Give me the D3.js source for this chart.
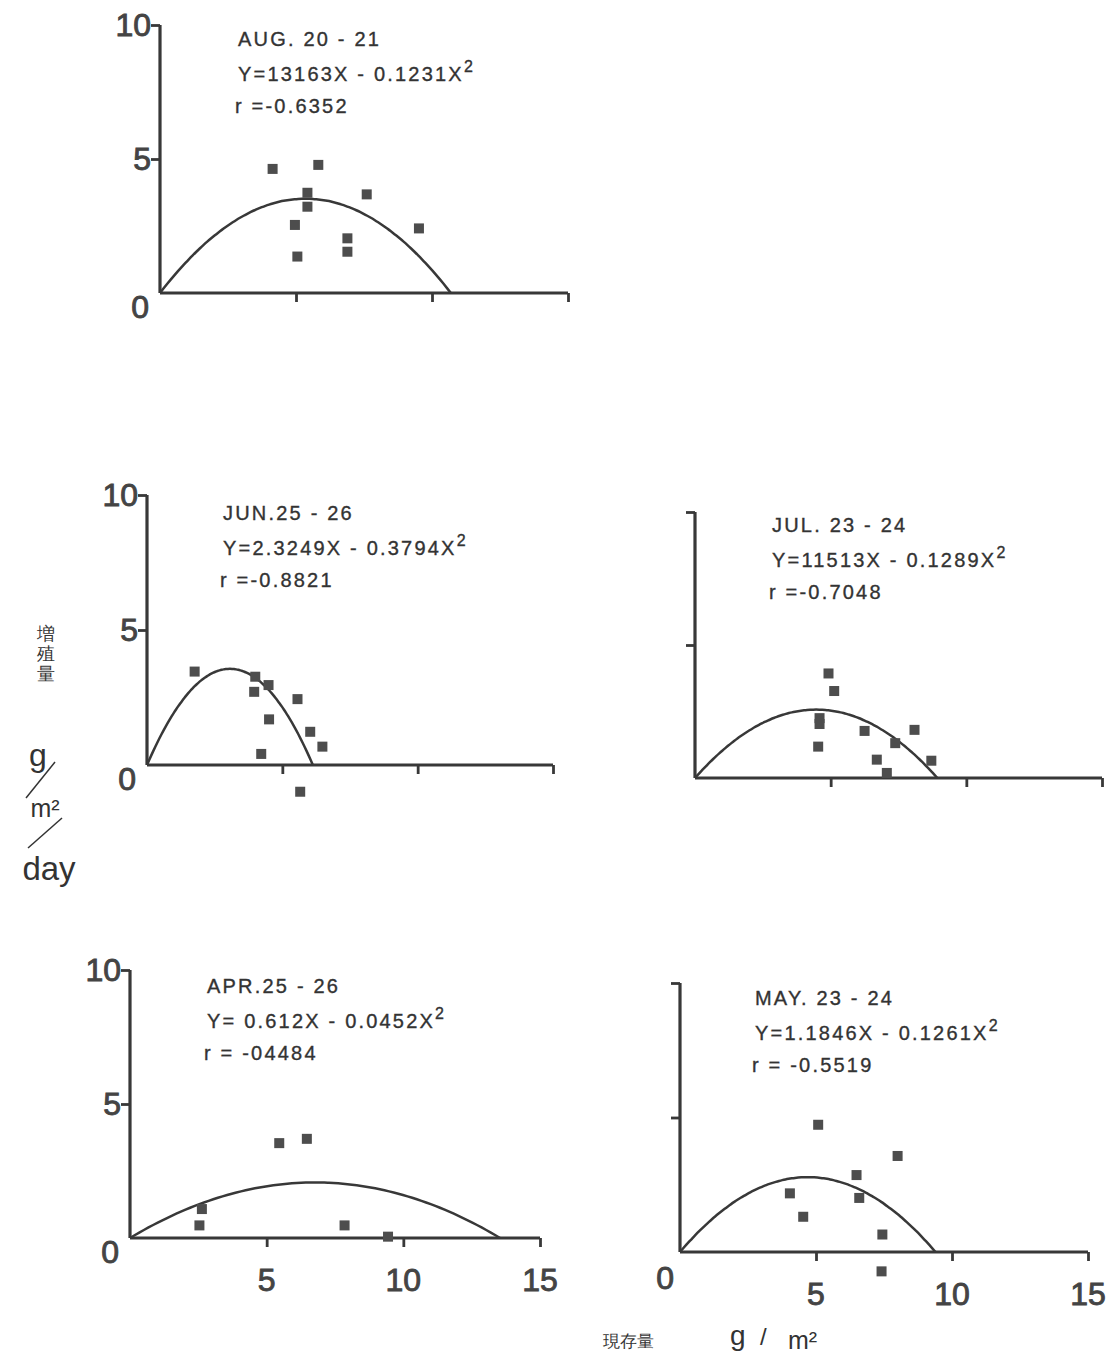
<!DOCTYPE html>
<html>
<head>
<meta charset="utf-8">
<script src="https://cdn.jsdelivr.net/npm/d3@7"></script>
<style>
  body { margin: 0; background: #fff; }
  text { font-family: "Liberation Sans", Arial, sans-serif; }
</style>
</head>
<body>
<div id="chart"></div>
<script>
/* DATA */
const panelNames = ["AUG", "JUN", "JUL", "APR", "MAY"]
const dateLabels = ["AUG. 20 - 21", "JUN.25 - 26", "JUL. 23 - 24", "APR.25 - 26", "MAY. 23 - 24"]
const eqLabels = ["Y=13163X - 0.1231X", "Y=2.3249X - 0.3794X", "Y=11513X - 0.1289X", "Y= 0.612X - 0.0452X", "Y=1.1846X - 0.1261X"]
const rLabels = ["r =-0.6352", "r =-0.8821", "r =-0.7048", "r = -04484", "r = -0.5519"]
const coefA = [1.3163, 2.3249, 1.1513, 0.612, 1.1846]
const coefB = [0.1231, 0.3794, 0.1289, 0.0452, 0.1261]

const augPoints = [[4.14, 4.63], [5.82, 4.78], [5.42, 3.74], [5.42, 3.22], [7.60, 3.68], [4.96, 2.54], [5.05, 1.36], [6.89, 2.04], [6.89, 1.54], [9.52, 2.41]]
const junPoints = [[1.76, 3.46], [4.00, 3.27], [3.96, 2.71], [4.49, 2.96], [5.56, 2.44], [4.51, 1.69], [6.03, 1.23], [6.48, 0.68], [4.22, 0.41], [5.66, -0.99]]
const julPoints = [[4.92, 3.93], [5.13, 3.27], [4.59, 2.25], [4.59, 2.03], [4.54, 1.18], [6.25, 1.77], [7.38, 1.31], [8.09, 1.81], [6.70, 0.69], [7.07, 0.19], [8.71, 0.65]]
const aprPoints = [[5.46, 3.54], [6.47, 3.70], [2.63, 1.08], [2.54, 0.47], [7.85, 0.47], [9.44, 0.05]]
const mayPoints = [[5.08, 4.73], [8.00, 3.57], [6.49, 2.86], [4.04, 2.18], [6.59, 2.01], [4.53, 1.31], [7.44, 0.65], [7.41, -0.72]]
const pointSets = [augPoints, junPoints, julPoints, aprPoints, mayPoints]

const yTicks = [5, 10]
const xTicks = [5, 10, 15]

/* LAYOUT (pixel frames for each small plot) */
const frames = [
  { x0: 160, x15: 568, y0: 293, y10: 25, yLab: true, xLab: false, textX: 238, textY: 46 },
  { x0: 147, x15: 553, y0: 765, y10: 495, yLab: true, xLab: false, textX: 223, textY: 520 },
  { x0: 695, x15: 1102, y0: 778, y10: 512, yLab: false, xLab: false, textX: 772, textY: 532 },
  { x0: 130, x15: 540, y0: 1238, y10: 970, yLab: true, xLab: true, textX: 207, textY: 993 },
  { x0: 680, x15: 1088, y0: 1252, y10: 983, yLab: false, xLab: true, textX: 755, textY: 1005 }
]

const ink = "#383838"

const svg = d3.select("#chart")
  .append("svg")
  .attr("width", 1107)
  .attr("height", 1360)
  .style("background-color", "#fff")

panelNames.forEach((name, i) => {
  const f = frames[i]
  const g = svg.append("g").attr("class", "panel-" + name)

  const xScale = d3.scaleLinear().domain([0, 15]).range([f.x0, f.x15])
  const yScale = d3.scaleLinear().domain([0, 10]).range([f.y0, f.y10])

  // axes
  const xAxis = d3.axisBottom(xScale).tickValues(xTicks).tickSize(9).tickFormat("")
  const yAxis = d3.axisLeft(yScale).tickValues(yTicks).tickSize(9).tickFormat("")

  const xg = g.append("g").attr("transform", `translate(0, ${f.y0})`).call(xAxis)
  const yg = g.append("g").attr("transform", `translate(${f.x0}, 0)`).call(yAxis)
  ;[xg, yg].forEach(a => {
    a.select(".domain").attr("stroke", ink).attr("stroke-width", 3.2)
      .attr("d", a === xg ? `M${f.x0},0H${f.x15}` : `M0,${f.y10}V${f.y0}`)
    a.selectAll(".tick line").attr("stroke", ink).attr("stroke-width", 2.8)
  })

  // tick numbers
  const numStyle = sel => sel
    .attr("font-size", 32)
    .attr("fill", "#444")
    .attr("stroke", "#444")
    .attr("stroke-width", 0.9)
  if (f.yLab) {
    g.selectAll(".ylab")
      .data([0, 5, 10])
      .join("text")
      .attr("x", d => d === 0 ? f.x0 - 11 : f.x0 - 9)
      .attr("y", d => d === 0 ? yScale(d) + 25 : yScale(d) + 11)
      .attr("text-anchor", "end")
      .call(numStyle)
      .text(d => d)
  }
  if (f.xLab) {
    g.selectAll(".xlab")
      .data(xTicks)
      .join("text")
      .attr("x", d => xScale(d))
      .attr("y", f.y0 + 53)
      .attr("text-anchor", "middle")
      .call(numStyle)
      .text(d => d)
    if (!f.yLab) {
      g.append("text")
        .attr("x", f.x0 - 6)
        .attr("y", f.y0 + 37)
        .attr("text-anchor", "end")
        .call(numStyle)
        .text("0")
    }
  }

  // fitted curve Y = aX - bX^2
  const a = coefA[i], b = coefB[i]
  const root = a / b
  const xs = d3.range(0, root, root / 80).concat([root])
  const line = d3.line()
    .x(d => xScale(d))
    .y(d => yScale(a * d - b * d * d))
    .curve(d3.curveMonotoneX)
  g.append("path")
    .attr("d", line(xs))
    .attr("fill", "none")
    .attr("stroke", ink)
    .attr("stroke-width", 2.5)

  // points
  const s = 10
  g.selectAll("rect.pt")
    .data(pointSets[i])
    .join("rect")
    .attr("class", "pt")
    .attr("x", d => xScale(d[0]) - s / 2)
    .attr("y", d => yScale(d[1]) - s / 2)
    .attr("width", s)
    .attr("height", s)
    .attr("fill", "#4d4d4d")

  // annotation
  const t = g.append("g")
    .attr("fill", "#333")
    .attr("stroke", "#333")
    .attr("stroke-width", 0.35)
    .attr("font-size", 20)
    .attr("letter-spacing", 2.2)
  t.append("text").attr("x", f.textX).attr("y", f.textY).text(dateLabels[i])
  const eq = t.append("text").attr("x", f.textX).attr("y", f.textY + 35)
  eq.append("tspan").text(eqLabels[i])
  eq.append("tspan").attr("dy", -9).attr("font-size", 16).text("2")
  t.append("text").attr("x", f.textX - 3).attr("y", f.textY + 67).text(rLabels[i])
})

/* AXIS TITLES */
const leftTitle = svg.append("g").attr("fill", "#333")
leftTitle.selectAll("text.kanji")
  .data(["増", "殖", "量"])
  .join("text")
  .attr("x", 46)
  .attr("y", (d, i) => 640 + i * 20)
  .attr("text-anchor", "middle")
  .attr("font-family", "Noto Sans CJK JP")
  .attr("font-size", 18)
  .text(d => d)
leftTitle.append("text").attr("x", 38).attr("y", 766).attr("text-anchor", "middle").attr("font-size", 32).text("g")
leftTitle.append("line").attr("x1", 26).attr("y1", 798).attr("x2", 55).attr("y2", 762).attr("stroke", "#333").attr("stroke-width", 1.5)
leftTitle.append("text").attr("x", 45).attr("y", 817).attr("text-anchor", "middle").attr("font-family", "Liberation Serif").attr("font-size", 25).text("m²")
leftTitle.append("line").attr("x1", 28).attr("y1", 848).attr("x2", 62).attr("y2", 818).attr("stroke", "#333").attr("stroke-width", 1.5)
leftTitle.append("text").attr("x", 49).attr("y", 880).attr("text-anchor", "middle").attr("font-size", 33).text("day")

const bottomTitle = svg.append("g").attr("fill", "#333")
bottomTitle.append("text").attr("x", 603).attr("y", 1347).attr("font-family", "Noto Sans CJK JP").attr("font-size", 17).text("現存量")
bottomTitle.append("text").attr("x", 730).attr("y", 1345).attr("font-size", 28).text("g")
bottomTitle.append("text").attr("x", 760).attr("y", 1345).attr("font-size", 24).text("/")
bottomTitle.append("text").attr("x", 788).attr("y", 1349).attr("font-family", "Liberation Serif").attr("font-size", 25).text("m²")
</script>
</body>
</html>
